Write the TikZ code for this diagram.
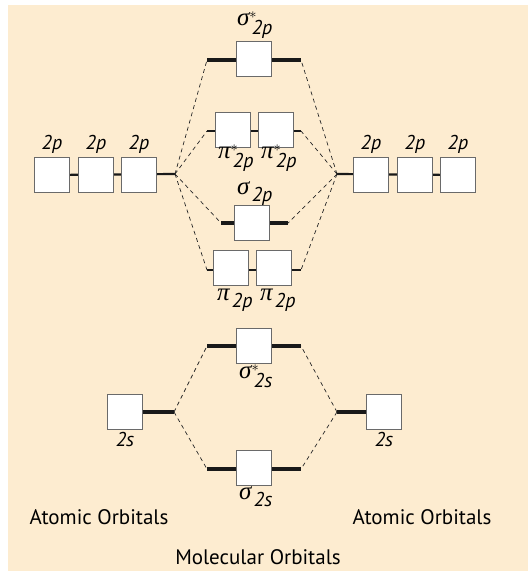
\documentclass[tikz,border=0pt]{standalone}
\usepackage{fontspec}
\setmainfont{PT Sans}
\newfontfamily\greekfont{Liberation Serif}
\usepackage{tikz}
\pgfdeclarelayer{background}
\pgfdeclarelayer{main}
\pgfsetlayers{background,main}
\usetikzlibrary{positioning}
\definecolor{paper}{HTML}{FDECD0}
\definecolor{boxline}{HTML}{6A6A6A}
\newcommand{\gr}[1]{\mbox{\fontsize{25}{28}\greekfont\itshape #1}}

\begin{document}
\begin{tikzpicture}[
    x=1pt, y=-1pt,
    font=\fontsize{20}{24}\selectfont,
    orb/.style={draw=boxline, fill=white, line width=1pt,
        minimum size=35pt, inner sep=0pt},
    sigmalvl/.style={line width=3.5pt, draw=black!90},
    pilvl/.style={line width=2.2pt, draw=black!90},
    corr/.style={line width=0.7pt, draw=black!85, dash pattern=on 4pt off 3.5pt},
    lbl/.style={inner sep=0pt},
    caption/.style={font=\fontsize{21}{25}\selectfont}
]
\useasboundingbox (0,0) rectangle (528,571);

% Atomic orbitals (left)
\node[orb] (lp1) at (52,175) {};
\node[orb] (lp2) at (96,175) {};
\node[orb] (lp3) at (139,175) {};
\node[orb] (ls) at (125,412) {};
\coordinate (jlp) at (175,174);
\coordinate (jls) at (174,412);

% Atomic orbitals (right)
\node[orb] (rp1) at (371,175) {};
\node[orb] (rp2) at (415,175) {};
\node[orb] (rp3) at (458,175) {};
\node[orb] (rs) at (384,412) {};
\coordinate (jrp) at (337,174);
\coordinate (jrs) at (337,412);

% Molecular orbitals (centre)
\node[orb] (sps) at (254,59) {};
\node[orb] (pisa) at (233,130) {};
\node[orb] (pisb) at (276,130) {};
\node[orb] (sp) at (252,223) {};
\node[orb] (pia) at (231,268) {};
\node[orb] (pib) at (274,268) {};
\node[orb] (sss) at (254,346) {};
\node[orb] (ss) at (254,468) {};

% Level ends
\coordinate (sps-l) at (207,60);  \coordinate (sps-r) at (301,60);
\coordinate (pis-l) at (207,131); \coordinate (pis-r) at (301,131);
\coordinate (sp-l) at (221,223);  \coordinate (sp-r) at (288,223);
\coordinate (pi-l) at (207,270);  \coordinate (pi-r) at (301,270);
\coordinate (sss-l) at (207,346); \coordinate (sss-r) at (301,346);
\coordinate (ss-l) at (207,469);  \coordinate (ss-r) at (301,469);

% Labels
\foreach \n in {lp1,lp2,lp3,rp1,rp2,rp3}
    \node[lbl, above=3pt of \n] {\itshape 2p};
\node[lbl, below=2pt of ls] {\itshape 2s};
\node[lbl, below=2pt of rs] {\itshape 2s};
\node[lbl] (sps-t) at (255,25) {$\gr{σ}^{*}_{\,\textit{2p}}$};
\node[lbl] (pisa-t) at (236,158) {$\gr{π}^{*}_{\,\textit{2p}}$};
\node[lbl] (pisb-t) at (279,158) {$\gr{π}^{*}_{\,\textit{2p}}$};
\node[lbl] (sp-t) at (255,194) {$\gr{σ}_{\,\textit{2p}}$};
\node[lbl] (pia-t) at (235,300) {$\gr{π}_{\,\textit{2p}}$};
\node[lbl] (pib-t) at (278,300) {$\gr{π}_{\,\textit{2p}}$};
\node[lbl] (sss-t) at (256,376) {$\gr{σ}^{*}_{\,\textit{2s}}$};
\node[lbl] (ss-t) at (256,497) {$\gr{σ}_{\,\textit{2s}}$};
\node[caption] (aol) at (99,517) {Atomic Orbitals};
\node[caption] (aor) at (422,517) {Atomic Orbitals};
\node[caption] (mo) at (258,557) {Molecular Orbitals};

\begin{pgfonlayer}{background}
\fill[paper] (8,5) rectangle (528,571);

% Energy levels
\draw[pilvl] (lp1) -- (jlp);
\draw[pilvl] (jrp) -- (rp3);
\draw[sigmalvl] (ls) -- (jls);
\draw[sigmalvl] (jrs) -- (rs);
\draw[sigmalvl] (sps-l) -- (sps-r);
\draw[pilvl] (pis-l) -- (pis-r);
\draw[sigmalvl] (sp-l) -- (sp-r);
\draw[pilvl] (pi-l) -- (pi-r);
\draw[sigmalvl] (sss-l) -- (sss-r);
\draw[sigmalvl] (ss-l) -- (ss-r);

% Correlation lines
\foreach \t in {sps,pis,sp,pi} {
    \draw[corr] (jlp) -- (\t-l);
    \draw[corr] (jrp) -- (\t-r);
}
\foreach \t in {sss,ss} {
    \draw[corr] (jls) -- (\t-l);
    \draw[corr] (jrs) -- (\t-r);
}
\end{pgfonlayer}

\end{tikzpicture}
\end{document}
